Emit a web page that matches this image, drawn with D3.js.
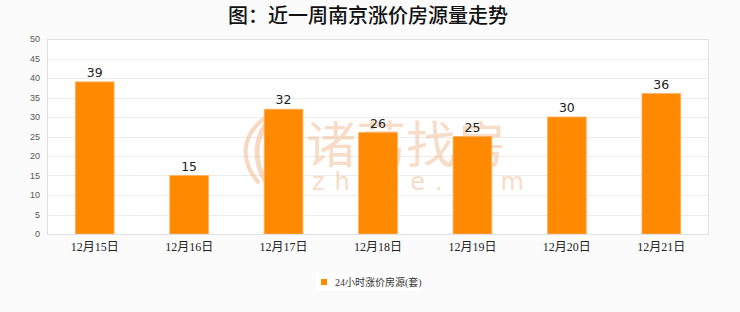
<!DOCTYPE html>
<html lang="zh">
<head>
<meta charset="UTF-8">
<title>近一周南京涨价房源量走势</title>
<style>
  body { margin: 0; background: #fbfbfb; }
  svg { display: block; }
  .tick text { font-family: "Liberation Sans", "Noto Sans", sans-serif; }
</style>
</head>
<body>
<script src="https://d3js.org/d3.v7.min.js"></script>
<script>
// data
const days = ["12月15日", "12月16日", "12月17日", "12月18日", "12月19日", "12月20日", "12月21日"];
const counts = [39, 15, 32, 26, 25, 30, 36];
const yTicks = [0, 5, 10, 15, 20, 25, 30, 35, 40, 45, 50];
const seriesName = "24小时涨价房源(套)";
const chartTitle = "图：近一周南京涨价房源量走势";

const W = 740, H = 312;
const plot = { left: 47, right: 709, top: 39, bottom: 234 };

const svg = d3.select("body").append("svg")
  .attr("width", W).attr("height", H);

// title
svg.append("text")
  .attr("x", 368).attr("y", 23)
  .attr("text-anchor", "middle")
  .style("font-family", "'Noto Sans CJK SC', sans-serif")
  .style("font-size", "20px")
  .style("font-weight", 500)
  .attr("fill", "#111")
  .text(chartTitle);

const x = d3.scaleBand().domain(days).range([plot.left, plot.right]).paddingInner(0.59).paddingOuter(0.3);
const y = d3.scaleLinear().domain([0, 50]).range([plot.bottom, plot.top]);

// plot background
svg.append("rect")
  .attr("x", plot.left).attr("y", plot.top)
  .attr("width", plot.right - plot.left).attr("height", plot.bottom - plot.top)
  .attr("fill", "#fff");

// grid lines
svg.append("g").selectAll("line").data(yTicks.slice(1, -1)).join("line")
  .attr("x1", plot.left).attr("x2", plot.right)
  .attr("y1", d => Math.round(y(d)) + 0.5).attr("y2", d => Math.round(y(d)) + 0.5)
  .attr("stroke", "#ececec");

// watermark
const wm = svg.append("g").attr("opacity", 0.55);
const logo = wm.append("g").attr("fill", "none").attr("stroke", "#f2b98e").attr("stroke-linecap", "round");
[[-14, 4], [-6, 5], [2, 6], [10, 5]].forEach(([dx, sw]) => {
  logo.append("path")
    .attr("d", `M${272 + dx},${182} C${262 + dx * 1.6},${160} ${264 + dx * 1.6},${135} ${276 + dx * 0.8},${118}`)
    .attr("stroke-width", sw);
});
wm.append("text")
  .attr("x", 306).attr("y", 163)
  .style("font-family", "'Noto Sans CJK SC', sans-serif")
  .style("font-size", "50px")
  .attr("fill", "#f2c09a")
  .text("诸葛找房");
wm.append("text")
  .attr("x", 312).attr("y", 190)
  .style("font-family", "'DejaVu Sans', sans-serif")
  .style("font-size", "24px")
  .style("letter-spacing", "10px")
  .attr("fill", "#f2c09a")
  .text("zhuge.com");

// bars
svg.append("g").selectAll("rect").data(counts).join("rect")
  .attr("x", (d, i) => x(days[i]))
  .attr("y", d => y(d))
  .attr("width", x.bandwidth())
  .attr("height", d => y(0) - y(d))
  .attr("fill", "#ff8a00")
  .attr("stroke", "#ffb060")
  .attr("stroke-width", 0.8);

// value labels
svg.append("g").selectAll("text").data(counts).join("text")
  .attr("x", (d, i) => x(days[i]) + x.bandwidth() / 2)
  .attr("y", d => y(d) - 5)
  .attr("text-anchor", "middle")
  .style("font-family", "'DejaVu Sans', sans-serif")
  .style("font-size", "12.5px")
  .attr("fill", "#222")
  .text(d => d);

// plot border
svg.append("rect")
  .attr("x", plot.left + 0.5).attr("y", plot.top + 0.5)
  .attr("width", plot.right - plot.left - 1).attr("height", plot.bottom - plot.top)
  .attr("fill", "none").attr("stroke", "#e0e0e0");

// y axis
const yAxis = svg.append("g")
  .attr("transform", `translate(${plot.left},0)`)
  .call(d3.axisLeft(y).tickValues(yTicks).tickSize(0).tickPadding(7));
yAxis.select(".domain").remove();
yAxis.selectAll("text").style("font-size", "9px").attr("fill", "#555");

// x axis
const xAxis = svg.append("g")
  .attr("transform", `translate(0,${plot.bottom})`)
  .call(d3.axisBottom(x).tickSize(0).tickPadding(8));
xAxis.select(".domain").remove();
xAxis.selectAll("text")
  .style("font-family", "'Liberation Serif', 'Noto Sans CJK SC', serif")
  .style("font-size", "12px")
  .attr("fill", "#222");

// legend
const lg = svg.append("g").attr("transform", "translate(316,273)");
lg.append("rect").attr("width", 104).attr("height", 18).attr("fill", "#fff");
lg.append("rect").attr("x", 5).attr("y", 6).attr("width", 6).attr("height", 6).attr("fill", "#ff8a00");
lg.append("text")
  .attr("x", 19).attr("y", 13)
  .style("font-family", "'Liberation Serif', 'Noto Sans CJK SC', serif")
  .style("font-size", "10px")
  .attr("fill", "#333")
  .text(seriesName);
</script>
</body>
</html>
